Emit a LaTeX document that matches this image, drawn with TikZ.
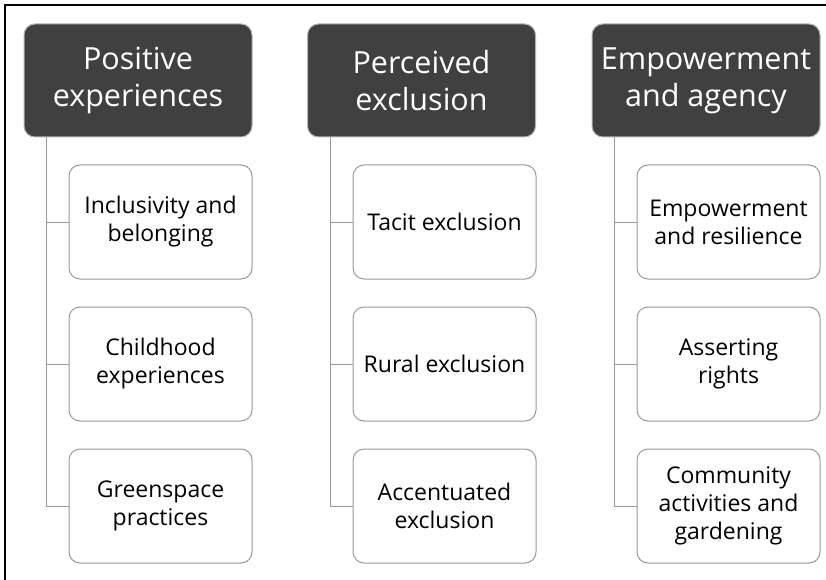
\documentclass[tikz,border=0pt]{standalone}
\usepackage{fontspec}
\setmainfont{Open Sans}
\begin{document}
\begin{tikzpicture}[x=1pt,y=-1pt,
  head/.style={draw=black!30, line width=1pt, fill=black!75, text=white, rounded corners=11pt,
    minimum width=228pt, minimum height=113pt, align=center, inner sep=0pt,
    font=\fontsize{30.5}{37}\selectfont},
  leaf/.style={draw=black!40, line width=1pt, fill=white, rounded corners=11pt,
    minimum width=183pt, minimum height=114pt, align=center, inner sep=0pt,
    font=\fontsize{23}{28}\selectfont},
  conn/.style={draw=black!40, line width=1pt}]
\useasboundingbox (0,0) rectangle (826,580);
\fill[white] (0,0) rectangle (826,580);
\draw[line width=2.5pt] (5,580) -- (5,5) -- (826,5);

\node[head] (h1) at (138,80.5) {Positive\\experiences};
\node[head] (h2) at (421.5,80.5) {Perceived\\exclusion};
\node[head] (h3) at (706,80.5) {Empowerment\\and agency};

\node[leaf] (c11) at (160.5,222) {Inclusivity and\\belonging};
\node[leaf] (c12) at (160.5,364) {Childhood\\experiences};
\node[leaf] (c13) at (160.5,506) {Greenspace\\practices};

\node[leaf] (c21) at (444.5,222) {Tacit exclusion};
\node[leaf] (c22) at (444.5,364) {Rural exclusion};
\node[leaf] (c23) at (444.5,506) {Accentuated\\exclusion};

\node[leaf] (c31) at (728.5,222) {Empowerment\\and resilience};
\node[leaf] (c32) at (728.5,364) {Asserting\\rights};
\node[leaf] (c33) at (728.5,506) {Community\\activities and\\gardening};

\foreach \h in {1,2,3}{
  \foreach \c in {1,2,3}{
    \draw[conn] ([xshift=23pt]h\h.south west) |- (c\h\c.west);
  }
}
\end{tikzpicture}
\end{document}
